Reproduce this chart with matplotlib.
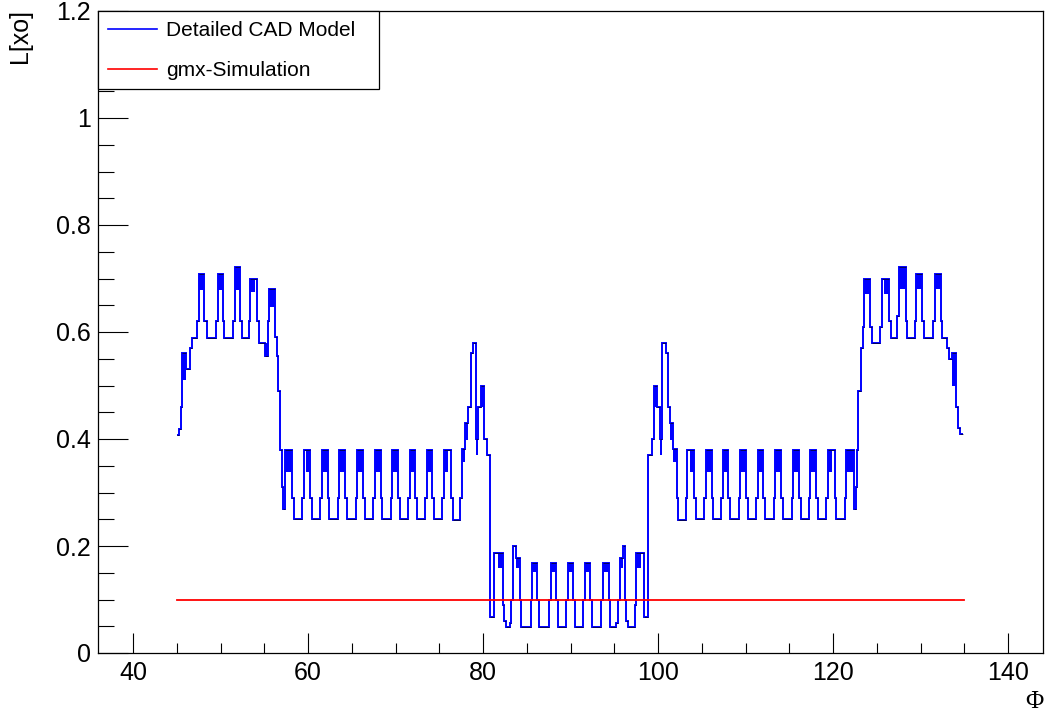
import matplotlib
matplotlib.use('Agg')
import matplotlib.pyplot as plt
from matplotlib.patches import Rectangle
from matplotlib.lines import Line2D
from matplotlib.ticker import MultipleLocator, FuncFormatter

plt.rcParams['font.family'] = ['Liberation Sans', 'DejaVu Sans']

# ---- Detailed CAD Model: step histogram (bin start phi, L[xo]) ----
steps_left_high = [(45.0, 0.408), (45.2, 0.418), (45.45, 0.46), (45.58, 0.56), (46.0, 0.53), (46.55, 0.57),
                   (46.76, 0.589), (47.26, 0.62), (47.53, 0.708), (48.17, 0.62), (48.47, 0.589), (49.5, 0.62),
                   (49.69, 0.708), (50.26, 0.62), (50.45, 0.589), (51.40, 0.62), (51.6, 0.722), (52.28, 0.62),
                   (52.47, 0.589), (53.23, 0.62), (53.42, 0.70), (54.18, 0.62), (54.37, 0.58), (55.13, 0.555),
                   (55.39, 0.62), (55.5, 0.68), (56.27, 0.59), (56.4, 0.555), (56.55, 0.49)]
steps_left_mid = [(56.8, 0.38), (57.0, 0.31), (57.1, 0.27), (57.33, 0.38), (58.17, 0.29), (58.36, 0.25),
                  (59.31, 0.29), (59.5, 0.38), (60.26, 0.29), (60.45, 0.25), (61.40, 0.29), (61.59, 0.38),
                  (62.28, 0.29), (62.45, 0.25), (63.40, 0.29), (63.57, 0.38), (64.22, 0.29), (64.40, 0.25),
                  (65.46, 0.29), (65.64, 0.38), (66.32, 0.29), (66.50, 0.25), (67.48, 0.29), (67.66, 0.38),
                  (68.30, 0.29), (68.48, 0.25), (69.47, 0.29), (69.65, 0.38), (70.30, 0.29), (70.48, 0.25),
                  (71.47, 0.29), (71.65, 0.38), (72.28, 0.29), (72.46, 0.25), (73.38, 0.29), (73.56, 0.38),
                  (74.22, 0.29), (74.40, 0.25), (75.36, 0.29), (75.54, 0.38), (76.34, 0.29), (76.53, 0.248),
                  (77.37, 0.29), (77.55, 0.381), (77.94, 0.43), (78.31, 0.46), (78.58, 0.56), (78.81, 0.58),
                  (79.19, 0.40), (79.45, 0.46), (79.76, 0.50), (80.14, 0.40), (80.40, 0.37)]
steps_center = [(80.8, 0.067), (81.28, 0.187), (82.30, 0.09), (82.45, 0.06), (82.62, 0.048), (83.05, 0.056),
                (83.2, 0.10), (83.4, 0.20), (83.8, 0.178), (84.2, 0.10), (84.39, 0.048), (85.46, 0.10),
                (85.61, 0.168), (86.22, 0.10), (86.37, 0.048), (87.55, 0.10), (87.74, 0.168), (88.38, 0.10),
                (88.57, 0.048), (89.52, 0.10), (89.71, 0.168), (90.29, 0.10), (90.48, 0.048), (91.43, 0.10),
                (91.62, 0.168), (92.26, 0.10), (92.45, 0.048), (93.52, 0.10), (93.72, 0.168), (94.36, 0.10),
                (94.54, 0.048), (95.25, 0.056), (95.42, 0.10), (95.61, 0.178), (96.0, 0.20), (96.2, 0.10),
                (96.37, 0.06), (96.55, 0.048), (97.33, 0.09), (97.52, 0.187), (98.38, 0.067)]
steps_right_mid = [(98.9, 0.37), (99.3, 0.40), (99.56, 0.50), (99.94, 0.46), (100.25, 0.40), (100.51, 0.58),
                   (100.89, 0.56), (101.12, 0.46), (101.39, 0.43), (101.76, 0.381), (102.15, 0.29), (102.33, 0.248),
                   (103.17, 0.29), (103.36, 0.38), (104.16, 0.29), (104.34, 0.25), (105.30, 0.29), (105.48, 0.38),
                   (106.14, 0.29), (106.32, 0.25), (107.24, 0.29), (107.42, 0.38), (108.05, 0.29), (108.23, 0.25),
                   (109.22, 0.29), (109.40, 0.38), (110.05, 0.29), (110.23, 0.25), (111.22, 0.29), (111.40, 0.38),
                   (112.04, 0.29), (112.22, 0.25), (113.20, 0.29), (113.38, 0.38), (114.06, 0.29), (114.24, 0.25),
                   (115.30, 0.29), (115.48, 0.38), (116.13, 0.29), (116.30, 0.25), (117.25, 0.29), (117.42, 0.38),
                   (118.11, 0.29), (118.30, 0.25), (119.25, 0.29), (119.44, 0.38), (120.20, 0.29), (120.39, 0.25),
                   (121.34, 0.29), (121.53, 0.38), (122.37, 0.27), (122.60, 0.31), (122.70, 0.38)]
steps_right_high = [(122.90, 0.49), (123.16, 0.57), (123.43, 0.61), (123.54, 0.70), (124.19, 0.61), (124.42, 0.58),
                    (125.37, 0.61), (125.55, 0.70), (126.40, 0.62), (126.58, 0.589), (127.34, 0.63), (127.54, 0.722),
                    (128.29, 0.62), (128.48, 0.589), (129.32, 0.62), (129.51, 0.708), (130.19, 0.62), (130.39, 0.589),
                    (131.41, 0.62), (131.60, 0.708), (132.29, 0.62), (132.48, 0.589), (133.05, 0.57), (133.24, 0.55),
                    (133.62, 0.56), (134.11, 0.46), (134.26, 0.42), (134.49, 0.41)]
cad_phi_end = 134.8

# rapidly alternating bins (drawn as solid bands): (phi0, phi1, low, high)
bands_left_high = [(45.58, 46.0, 0.51, 0.56), (47.53, 48.17, 0.678, 0.708), (49.69, 50.26, 0.678, 0.708),
                   (51.6, 52.28, 0.678, 0.722), (53.42, 53.95, 0.675, 0.70), (55.13, 55.39, 0.555, 0.58),
                   (55.5, 56.27, 0.647, 0.68)]
bands_left_mid = [(57.33, 58.17, 0.338, 0.38), (59.76, 60.26, 0.338, 0.38), (61.59, 62.28, 0.338, 0.38),
                  (63.57, 64.22, 0.338, 0.38), (65.64, 66.32, 0.338, 0.38), (67.66, 68.30, 0.338, 0.38),
                  (69.65, 70.30, 0.338, 0.38), (71.65, 72.28, 0.338, 0.38), (73.56, 74.22, 0.338, 0.38),
                  (75.54, 76.05, 0.338, 0.38), (77.55, 77.94, 0.357, 0.381), (77.94, 78.31, 0.398, 0.43),
                  (79.19, 79.45, 0.37, 0.40), (79.76, 80.14, 0.46, 0.50)]
bands_center = [(81.75, 82.30, 0.159, 0.187), (83.8, 84.2, 0.159, 0.178), (85.61, 86.22, 0.152, 0.168),
                (87.74, 88.38, 0.152, 0.168), (89.71, 90.29, 0.152, 0.168), (91.62, 92.26, 0.152, 0.168),
                (93.72, 94.36, 0.152, 0.168), (95.61, 96.0, 0.159, 0.178), (97.52, 98.1, 0.159, 0.187)]
bands_right_mid = [(99.56, 99.94, 0.46, 0.50), (100.25, 100.51, 0.37, 0.40), (101.39, 101.76, 0.398, 0.43),
                   (101.76, 102.15, 0.357, 0.381), (103.65, 104.16, 0.338, 0.38), (105.48, 106.14, 0.338, 0.38),
                   (107.42, 108.05, 0.338, 0.38), (109.40, 110.05, 0.338, 0.38), (111.40, 112.04, 0.338, 0.38),
                   (113.38, 114.06, 0.338, 0.38), (115.48, 116.13, 0.338, 0.38), (117.42, 118.11, 0.338, 0.38),
                   (119.44, 119.94, 0.338, 0.38), (121.53, 122.37, 0.338, 0.38)]
bands_right_high = [(123.54, 124.19, 0.671, 0.70), (125.83, 126.40, 0.671, 0.70), (127.54, 128.29, 0.68, 0.722),
                    (129.51, 130.19, 0.68, 0.708), (131.60, 132.29, 0.68, 0.708), (133.62, 134.05, 0.50, 0.56)]

# ---- gmx-Simulation ----
sim_phi = [45.0, 135.0]
sim_lxo = [0.1, 0.1]

# ---- figure ----
W, H = 1048, 711
fig = plt.figure(figsize=(W / 100, H / 100), dpi=100)
L, R, T, B = 98, 1043, 11, 653
ax = fig.add_axes([L / W, (H - B) / H, (R - L) / W, (B - T) / H])

steps = steps_left_high + steps_left_mid + steps_center + steps_right_mid + steps_right_high
starts = [s[0] for s in steps]
vals = [s[1] for s in steps]
edges = starts + [cad_phi_end]

bands = bands_left_high + bands_left_mid + bands_center + bands_right_mid + bands_right_high
ax.bar([b[0] for b in bands], [b[3] - b[2] for b in bands], width=[b[1] - b[0] for b in bands],
       bottom=[b[2] for b in bands], align='edge', color='#0000ff', linewidth=0, zorder=2)

ax.stairs(vals, edges, baseline=None, color='#0000ff', linewidth=1.4, zorder=3)
ax.hlines(vals, edges[:-1], edges[1:], colors='black', linewidth=0.45, zorder=4)

ax.plot(sim_phi, sim_lxo, color='#ff0000', linewidth=1.3, zorder=5)

ax.set_xlim(36, 144)
ax.set_ylim(0, 1.2)
ax.xaxis.set_major_locator(MultipleLocator(20))
ax.xaxis.set_minor_locator(MultipleLocator(5))
ax.yaxis.set_major_locator(MultipleLocator(0.2))
ax.yaxis.set_minor_locator(MultipleLocator(0.05))
fmt = FuncFormatter(lambda v, p: '%g' % round(v, 6))
ax.xaxis.set_major_formatter(fmt)
ax.yaxis.set_major_formatter(fmt)

ax.tick_params(axis='both', which='both', direction='in', top=False, right=False, width=0.8,
               labelsize=18, colors='black')
ax.tick_params(axis='x', which='major', length=14.4, pad=6)
ax.tick_params(axis='x', which='minor', length=7.2)
ax.tick_params(axis='y', which='major', length=21.6, pad=5)
ax.tick_params(axis='y', which='minor', length=11.5)
for sp in ax.spines.values():
    sp.set_linewidth(0.9)
    sp.set_color('black')

# legend (box over the upper-left corner)
lx1 = (379 - L) / (R - L)
ly0 = 1 - (89 - T) / (B - T)
ax.add_patch(Rectangle((0, ly0), lx1, 1 - ly0, transform=ax.transAxes, facecolor='white',
                       edgecolor='black', linewidth=0.9, zorder=10, clip_on=False))
hx0, hx1 = (108 - L) / (R - L), (157 - L) / (R - L)
tx = (166 - L) / (R - L)
for yy, col, lab in [(29, '#0000ff', 'Detailed CAD Model'), (69, '#ff0000', 'gmx-Simulation')]:
    ya = 1 - (yy - T) / (B - T)
    ax.add_line(Line2D([hx0, hx1], [ya, ya], transform=ax.transAxes, color=col, linewidth=1.2,
                       zorder=11, clip_on=False))
    ax.text(tx, ya - 0.003, lab, transform=ax.transAxes, fontsize=15, va='center', ha='left', zorder=11)

fig.text(20 / W, 1 - 9 / H, 'L[xo]', rotation=90, fontsize=18, ha='center', va='top')
fig.text(1043 / W, 1 - 708 / H, 'Φ', fontsize=18, ha='right', va='baseline',
         family=['Liberation Serif', 'DejaVu Serif'])

fig.savefig('out.png', dpi=100)
